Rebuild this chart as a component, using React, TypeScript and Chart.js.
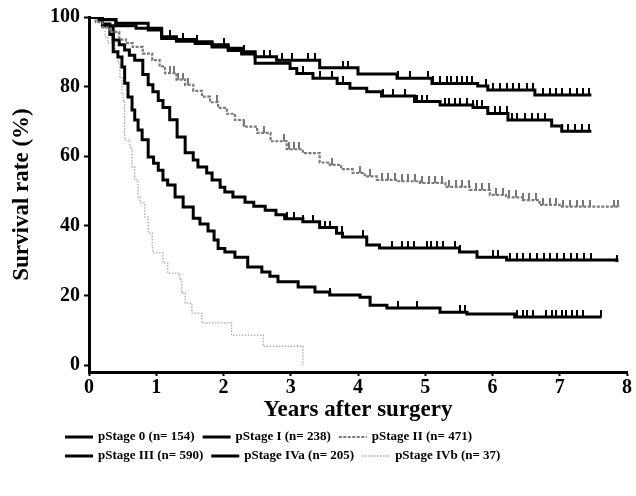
import React, { useEffect, useRef } from "react";
import { Chart, registerables } from "chart.js";

Chart.register(...registerables);

const xTickValues = [0, 1, 2, 3, 4, 5, 6, 7, 8];
const yTickValues = [0, 20, 40, 60, 80, 100];

const seriesLabels = [
  "pStage 0 (n= 154)",
  "pStage I (n= 238)",
  "pStage II (n= 471)",
  "pStage III (n= 590)",
  "pStage IVa (n= 205)",
  "pStage IVb (n= 37)",
];

// Kaplan-Meier step data: time of drop (years) and survival after drop (%)
const stage0Time = [0, 0.2, 0.4, 0.88, 1.08, 1.3, 1.58, 1.83, 2.07, 2.27, 2.47, 2.79, 3.43, 4.0, 4.58, 5.1, 5.78, 5.93, 6.63, 7.47];
const stage0Surv = [100, 99.3, 98.2, 96.3, 94.3, 93.5, 92.9, 92, 91, 90, 88.6, 87.6, 85.4, 83.6, 82.4, 80.9, 80.2, 79.0, 77.6, 77.6];
const stage0Censor = [1.2, 1.4, 1.6, 2.0, 2.3, 2.6, 2.69, 2.87, 3.02, 3.25, 3.36, 3.77, 3.85, 4.59, 4.77, 5.04, 5.11, 5.22, 5.32, 5.39, 5.47, 5.54, 5.62, 5.69, 5.91, 6.0, 6.11, 6.21, 6.3, 6.4, 6.51, 6.6, 6.75, 6.85, 6.95, 7.04, 7.15, 7.25, 7.34, 7.44];

const stage1Time = [0, 0.15, 0.4, 0.7, 1.08, 1.3, 1.58, 1.83, 2.07, 2.27, 2.47, 2.99, 3.09, 3.33, 3.69, 3.88, 4.13, 4.35, 4.84, 5.22, 5.71, 5.93, 6.23, 6.88, 7.03, 7.47];
const stage1Surv = [100, 99.2, 97.5, 96.8, 93.8, 93.0, 92.4, 91.4, 90.4, 89.4, 86.7, 85.2, 83.8, 82.4, 80.9, 79.5, 78.5, 77.3, 75.7, 74.7, 74.0, 72.3, 70.4, 68.7, 67.2, 67.2];
const stage1Censor = [3.18, 3.43, 3.61, 3.77, 4.37, 4.52, 4.7, 4.87, 4.95, 5.02, 5.29, 5.36, 5.44, 5.51, 5.62, 5.71, 5.77, 5.84, 5.93, 6.03, 6.11, 6.21, 6.29, 6.37, 6.48, 6.58, 6.67, 6.78, 6.89, 7.03, 7.12, 7.22, 7.33, 7.44];

const stage2Time = [0, 0.1, 0.2, 0.31, 0.45, 0.55, 0.65, 0.8, 0.94, 1.05, 1.13, 1.3, 1.43, 1.55, 1.68, 1.8, 1.92, 2.05, 2.17, 2.3, 2.5, 2.7, 2.94, 3.18, 3.43, 3.58, 3.75, 3.92, 4.1, 4.28, 4.6, 4.92, 5.3, 5.66, 5.96, 6.2, 6.45, 6.7, 7.0, 7.89];
const stage2Surv = [100, 98.5, 97, 95.7, 93.5, 92.5, 91.4, 89.5, 87.6, 85.8, 83.9, 82, 80.5, 78.8, 77.1, 75.5, 73.9, 72.2, 70.4, 68.5, 66.7, 64.3, 62.0, 60.9, 58.2, 57.5, 56.3, 55.2, 54.2, 53.2, 52.8, 52.3, 51.2, 50.3, 48.9, 48.2, 47.4, 46, 45.5, 45.5];
const stage2Censor = [1.2, 1.27, 1.33, 1.4, 1.47, 1.9, 2.3, 2.6, 2.9, 2.98, 3.05, 3.12, 3.61, 4.03, 4.18, 4.35, 4.45, 4.55, 4.65, 4.75, 4.85, 4.95, 5.05, 5.15, 5.25, 5.35, 5.45, 5.55, 5.65, 5.75, 5.85, 5.95, 6.05, 6.15, 6.25, 6.35, 6.45, 6.55, 6.65, 6.75, 6.85, 6.95, 7.05, 7.15, 7.25, 7.35, 7.45, 7.8, 7.87];

const stage3Time = [0, 0.2, 0.36, 0.45, 0.53, 0.6, 0.68, 0.8, 0.88, 0.95, 1.03, 1.1, 1.2, 1.31, 1.43, 1.55, 1.62, 1.75, 1.83, 1.95, 2.02, 2.14, 2.32, 2.45, 2.62, 2.78, 2.91, 3.18, 3.43, 3.68, 3.77, 4.13, 4.32, 5.51, 5.77, 6.21, 7.85];
const stage3Surv = [100, 97.5, 93.4, 92, 90.5, 89, 87.6, 83.5, 80.5, 78.5, 76, 74, 70.5, 65.5, 61, 58.9, 56.9, 55.2, 53.2, 51.1, 49.7, 48.3, 46.8, 45.6, 44.5, 43.2, 42, 41.2, 39.5, 37.9, 36.8, 34.5, 33.6, 32.5, 31.0, 30.2, 29.6];
const stage3Censor = [2.95, 3.05, 3.18, 3.33, 3.43, 3.51, 3.58, 3.76, 4.07, 4.5, 4.66, 4.74, 4.84, 5.02, 5.09, 5.17, 5.26, 5.44, 5.51, 5.77, 6.0, 6.08, 6.26, 6.36, 6.46, 6.56, 6.66, 6.76, 6.86, 6.96, 7.06, 7.16, 7.26, 7.36, 7.46, 7.85];

const stage4aTime = [0, 0.2, 0.31, 0.36, 0.43, 0.49, 0.53, 0.58, 0.64, 0.68, 0.73, 0.79, 0.88, 0.96, 1.03, 1.1, 1.17, 1.28, 1.4, 1.55, 1.65, 1.77, 1.86, 1.92, 2.02, 2.17, 2.36, 2.57, 2.69, 2.81, 3.11, 3.36, 3.58, 4.03, 4.18, 4.43, 5.22, 5.62, 6.33, 7.62];
const stage4aSurv = [100, 98, 95, 90, 88.5, 85.6, 81, 77, 73.3, 70.4, 67.5, 64.7, 59.8, 58, 56, 53.2, 51.7, 48.3, 45.4, 42.2, 40.5, 38.5, 35.9, 33.5, 32.5, 31, 28.2, 26.7, 25.5, 23.9, 22.4, 21, 20.1, 19.5, 17.2, 16.4, 15.2, 14.7, 13.8, 13.8];
const stage4aCensor = [3.58, 4.59, 4.87, 5.51, 5.59, 6.37, 6.45, 6.52, 6.6, 6.8, 6.88, 6.95, 7.03, 7.1, 7.18, 7.25, 7.34, 7.62];

const stage4bTime = [0, 0.19, 0.24, 0.28, 0.39, 0.43, 0.46, 0.49, 0.51, 0.53, 0.61, 0.64, 0.68, 0.73, 0.76, 0.83, 0.88, 0.94, 0.95, 1.1, 1.17, 1.35, 1.38, 1.43, 1.53, 1.68, 2.12, 2.59, 3.18];
const stage4bSurv = [100, 97.1, 94.3, 92.5, 89.7, 86.8, 82.8, 78.2, 76, 64.7, 62.6, 56.9, 53.2, 48.3, 46.6, 42.5, 37.9, 33.9, 32.2, 29.3, 26.4, 24.5, 20.7, 17.8, 14.9, 12.1, 8.6, 5.4, 0];

const FONT = '"Liberation Serif", "Times New Roman", serif';

type Style = { color: string; width: number; dash: number[] };
const seriesStyles: Style[] = [
  { color: "#000000", width: 3, dash: [] },
  { color: "#000000", width: 3, dash: [] },
  { color: "#7a7a7a", width: 2.2, dash: [3, 1.5] },
  { color: "#000000", width: 3, dash: [] },
  { color: "#000000", width: 3, dash: [] },
  { color: "#a8a8a8", width: 1.3, dash: [1.5, 1.5] },
];

function steps(times: number[], surv: number[]) {
  return times.map((t, i) => ({ x: t, y: surv[i] }));
}
function survAt(times: number[], surv: number[], t: number) {
  let v = surv[0];
  for (let i = 0; i < times.length; i++) if (times[i] <= t) v = surv[i];
  return v;
}
function censorPts(times: number[], surv: number[], cens: number[]) {
  return cens.map((t) => ({ x: t, y: survAt(times, surv, t) }));
}

function makeTick(color: string) {
  const c = document.createElement("canvas");
  c.width = 2;
  c.height = 14;
  const g = c.getContext("2d")!;
  g.fillStyle = color;
  g.fillRect(0, 0, 2, 7);
  return c;
}

const legendPlugin = {
  id: "bottomLegend",
  afterDraw(chart: any) {
    const ctx = chart.ctx;
    ctx.save();
    ctx.font = `bold 13px ${FONT}`;
    ctx.textBaseline = "middle";
    ctx.fillStyle = "#000";
    const rows = [[0, 1, 2], [3, 4, 5]];
    const rowY = [437, 456];
    rows.forEach((row, r) => {
      let x = 65;
      row.forEach((i) => {
        const st = seriesStyles[i];
        ctx.strokeStyle = st.color;
        ctx.lineWidth = st.width;
        ctx.setLineDash(st.dash);
        ctx.beginPath();
        ctx.moveTo(x, rowY[r]);
        ctx.lineTo(x + 28, rowY[r]);
        ctx.stroke();
        ctx.setLineDash([]);
        ctx.fillText(seriesLabels[i], x + 33, rowY[r]);
        x += 33 + ctx.measureText(seriesLabels[i]).width + 8;
      });
    });
    ctx.restore();
  },
};

export default function App() {
  const ref = useRef<HTMLCanvasElement | null>(null);
  useEffect(() => {
    if (!ref.current) return;
    const blackTick = makeTick("#000000");
    const greyTick = makeTick("#777777");
    const curves = [
      { t: stage0Time, s: stage0Surv, c: stage0Censor },
      { t: stage1Time, s: stage1Surv, c: stage1Censor },
      { t: stage2Time, s: stage2Surv, c: stage2Censor },
      { t: stage3Time, s: stage3Surv, c: stage3Censor },
      { t: stage4aTime, s: stage4aSurv, c: stage4aCensor },
      { t: stage4bTime, s: stage4bSurv, c: [] as number[] },
    ];
    const datasets: any[] = [];
    curves.forEach((cv, i) => {
      const st = seriesStyles[i];
      datasets.push({
        label: seriesLabels[i],
        data: steps(cv.t, cv.s),
        stepped: true,
        borderColor: st.color,
        borderWidth: st.width,
        borderDash: st.dash,
        pointRadius: 0,
        fill: false,
      });
      if (cv.c.length) {
        datasets.push({
          label: seriesLabels[i] + " censored",
          data: censorPts(cv.t, cv.s, cv.c),
          showLine: false,
          pointStyle: i === 2 ? greyTick : blackTick,
          pointRadius: 3,
          borderColor: st.color,
          backgroundColor: st.color,
        });
      }
    });
    const chart = new Chart(ref.current, {
      type: "line",
      data: { datasets },
      plugins: [legendPlugin],
      options: {
        animation: false,
        responsive: false,
        events: [],
        layout: { padding: { left: 8, right: 9, top: 17, bottom: 72 } },
        plugins: { legend: { display: false }, tooltip: { enabled: false } },
        scales: {
          x: {
            type: "linear",
            min: 0,
            max: 8,
            afterBuildTicks: (s: any) => {
              s.ticks = xTickValues.map((v) => ({ value: v }));
            },
            afterFit: (s: any) => {
              s.height = 52;
            },
            border: { display: true, color: "#000", width: 3 },
            grid: { display: true, drawOnChartArea: false, drawTicks: true, tickLength: 4, tickColor: "#000", tickWidth: 2, color: "#000" },
            ticks: { color: "#000", padding: 0, maxRotation: 0, font: { family: FONT, size: 20, weight: "bold" }, callback: (v: any) => String(v) },
            title: { display: true, text: "Years after surgery", color: "#000", padding: { top: 0, bottom: 0 }, font: { family: FONT, size: 23, weight: "bold" } },
          },
          y: {
            type: "linear",
            min: -2,
            max: 100,
            afterBuildTicks: (s: any) => {
              s.ticks = yTickValues.map((v) => ({ value: v }));
            },
            afterFit: (s: any) => {
              s.width = 81;
            },
            border: { display: true, color: "#000", width: 3 },
            grid: { display: true, drawOnChartArea: false, drawTicks: true, tickLength: 5, tickColor: "#000", tickWidth: 2, color: "#000" },
            ticks: { color: "#000", padding: 4, font: { family: FONT, size: 20, weight: "bold" }, callback: (v: any) => String(v) },
            title: { display: true, text: "Survival rate (%)", color: "#000", padding: { top: 0, bottom: 0 }, font: { family: FONT, size: 23, weight: "bold" } },
          },
        },
      },
    });
    return () => chart.destroy();
  }, []);
  return (
    <div style={{ position: "absolute", left: 0, top: 0, width: 636, height: 496, background: "#fff" }}>
      <canvas ref={ref} width={636} height={496} />
    </div>
  );
}
